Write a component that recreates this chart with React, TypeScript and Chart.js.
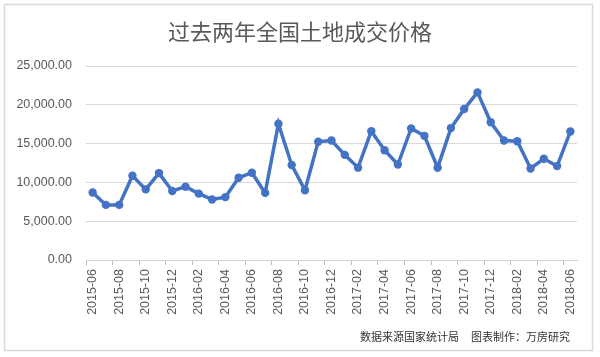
import React, { useEffect, useRef } from "react";
import { Chart, registerables } from "chart.js";

Chart.register(...registerables);

const TITLE = "过去两年全国土地成交价格";
const FOOTER_SOURCE = "数据来源国家统计局";
const FOOTER_MAKER = "图表制作：万房研究";

const categories: string[] = [
  "2015-06", "2015-07", "2015-08", "2015-09", "2015-10", "2015-11", "2015-12",
  "2016-01", "2016-02", "2016-03", "2016-04", "2016-05", "2016-06", "2016-07",
  "2016-08", "2016-09", "2016-10", "2016-11", "2016-12", "2017-01", "2017-02",
  "2017-03", "2017-04", "2017-05", "2017-06", "2017-07", "2017-08", "2017-09",
  "2017-10", "2017-11", "2017-12", "2018-01", "2018-02", "2018-03", "2018-04",
  "2018-05", "2018-06",
];

const landPrice: number[] = [
  8700, 7100, 7100, 10850, 9100, 11200, 8900, 9450, 8550, 7800, 8100, 10600,
  11250, 8650, 17550, 12250, 9000, 15250, 15400, 13550, 11900, 16600, 14150,
  12300, 16950, 16000, 11900, 17000, 19450, 21600, 17750, 15400, 15300, 11800,
  13050, 12100, 16550,
];

const yTicks = { min: 0, max: 25000, step: 5000 };

const framePlugin = {
  id: "frame",
  beforeDraw(chart: any) {
    const ctx = chart.ctx;
    ctx.save();
    ctx.fillStyle = "#ffffff";
    ctx.fillRect(0, 0, chart.width, chart.height);
    ctx.strokeStyle = "#d9d9d9";
    ctx.lineWidth = 1.5;
    ctx.strokeRect(4.5, 4.5, 588, 346);
    ctx.restore();
  },
  afterDraw(chart: any) {
    const ctx = chart.ctx;
    ctx.save();
    // title
    ctx.font = '22px "Noto Sans CJK SC"';
    ctx.fillStyle = "#595959";
    ctx.textAlign = "center";
    ctx.textBaseline = "middle";
    ctx.fillText(TITLE, 300, 32);
    // footer
    ctx.font = '11px "Noto Sans CJK SC"';
    ctx.fillStyle = "#333333";
    ctx.textAlign = "right";
    const right = 570;
    ctx.fillText(FOOTER_MAKER, right, 337);
    const w = ctx.measureText(FOOTER_MAKER).width;
    ctx.fillText(FOOTER_SOURCE, right - w - 12, 337);
    ctx.restore();
  },
};

export default function App() {
  const ref = useRef<HTMLCanvasElement | null>(null);

  useEffect(() => {
    if (!ref.current) return;
    const chart = new Chart(ref.current, {
      type: "line",
      data: {
        labels: categories,
        datasets: [
          {
            label: "土地成交价格",
            data: landPrice,
            borderColor: "#4472C4",
            backgroundColor: "#4472C4",
            borderWidth: 3.5,
            pointRadius: 4.2,
            pointBorderWidth: 0,
            pointBackgroundColor: "#4472C4",
            tension: 0,
          },
        ],
      },
      options: {
        responsive: false,
        animation: false,
        layout: { padding: { left: 0, right: 23, top: 66, bottom: 0 } },
        plugins: {
          legend: { display: false },
          tooltip: { enabled: false },
          title: { display: false },
        },
        scales: {
          x: {
            type: "category",
            offset: true,
            afterFit: (s: any) => {
              s.height = 97;
            },
            grid: {
              offset: true,
              drawOnChartArea: false,
              drawTicks: true,
              tickLength: 5,
              color: (c: any) => (c.index % 2 === 0 ? "#bfbfbf" : "rgba(0,0,0,0)"),
            },
            border: { display: true, color: "#d0d0d0", width: 1 },
            ticks: {
              autoSkip: false,
              maxRotation: 90,
              minRotation: 90,
              padding: 4,
              color: "#595959",
              font: { family: '"Liberation Sans", Arial', size: 12.5 },
              callback: (_v: any, i: number) => (i % 2 === 0 ? categories[i] : ""),
            },
          },
          y: {
            min: yTicks.min,
            max: yTicks.max,
            afterFit: (s: any) => {
              s.width = 86;
            },
            grid: { color: "#d9d9d9", lineWidth: 1, drawTicks: false },
            border: { display: false },
            ticks: {
              stepSize: yTicks.step,
              padding: 14,
              color: "#595959",
              font: { family: '"Liberation Sans", Arial', size: 12.5 },
              callback: (v: any) =>
                Number(v).toLocaleString("en-US", { minimumFractionDigits: 2, maximumFractionDigits: 2 }),
            },
          },
        },
      },
      plugins: [framePlugin],
    });
    return () => chart.destroy();
  }, []);

  return (
    <div style={{ position: "fixed", left: 0, top: 0, width: 600, height: 357 }}>
      <canvas ref={ref} width={600} height={357} style={{ width: 600, height: 357 }} />
    </div>
  );
}
